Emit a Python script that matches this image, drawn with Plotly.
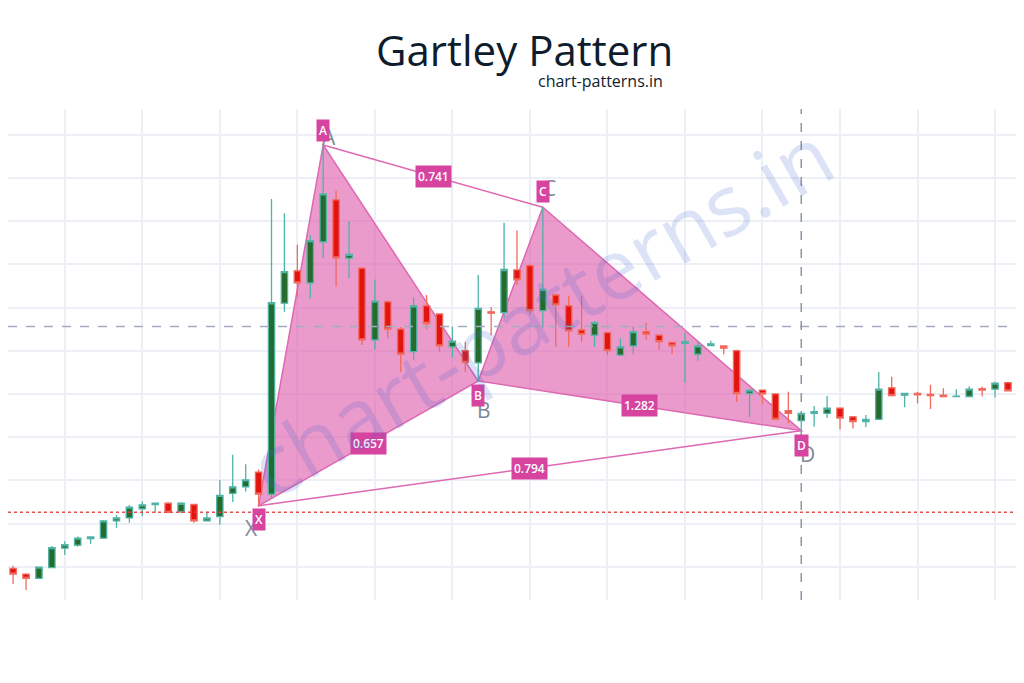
import plotly.graph_objects as go

# ---- candle data (index, open, high, low, close) ----
idx = list(range(79))
opens = [99.6, 98.3, 97.3, 99.8, 104.3, 105.0, 106.5, 106.6, 110.6, 111.3,
         113.4, 114.4, 114.7, 112.7, 114.4, 110.6, 111.6, 117.0, 118.5, 121.9,
         116.8, 161.0, 168.5, 165.7, 175.2, 184.9, 171.4, 169.1, 152.5, 161.3,
         155.0, 149.8, 160.4, 158.5, 150.9, 150.0, 147.2, 159.0, 158.8, 168.7,
         169.7, 159.3, 162.9, 160.4, 154.8, 153.6, 154.2, 149.0, 151.1, 154.4,
         153.6, 151.9, 151.7, 149.2, 151.2, 151.1, 150.0, 140.1, 140.9, 140.0,
         136.1, 133.8, 135.5, 135.5, 136.7, 134.7, 133.6, 134.1, 141.4, 139.7,
         140.1, 139.9, 139.7, 139.4, 139.4, 141.2, 141.1, 142.6, 140.6]
highs = [100.2, 98.5, 100.0, 104.8, 105.9, 107.0, 107.0, 110.8, 112.0, 114.3,
         115.1, 114.7, 115.0, 114.9, 114.6, 112.7, 120.1, 125.9, 123.7, 122.5,
         185.1, 181.8, 174.5, 176.8, 197.6, 187.0, 180.0, 169.3, 166.5, 161.6,
         155.5, 162.3, 162.9, 158.7, 155.6, 152.1, 167.5, 160.1, 179.6, 177.8,
         170.1, 183.2, 163.1, 162.7, 162.7, 156.8, 154.3, 152.9, 155.6, 156.5,
         153.8, 152.0, 154.2, 152.1, 152.3, 151.2, 150.2, 141.0, 141.0, 140.1,
         140.5, 135.7, 137.2, 139.5, 136.9, 134.9, 135.1, 145.1, 144.0, 140.2,
         140.5, 142.1, 141.3, 141.1, 141.8, 141.7, 142.8, 142.8, 143.9]
lows = [96.0, 94.6, 97.2, 99.7, 102.7, 104.6, 105.3, 106.4, 109.0, 110.2,
        111.7, 112.5, 112.4, 112.4, 110.2, 110.5, 109.7, 115.0, 117.4, 114.1,
        115.9, 159.0, 162.5, 162.1, 171.4, 164.8, 166.8, 151.3, 150.2, 152.9,
        145.1, 147.9, 155.0, 149.8, 148.4, 145.1, 143.0, 153.6, 157.6, 165.2,
        158.3, 155.4, 150.9, 150.8, 152.1, 150.9, 149.0, 148.8, 149.2, 152.6,
        150.2, 149.2, 142.5, 147.7, 151.2, 149.2, 138.2, 134.6, 137.7, 134.0,
        133.2, 131.5, 132.4, 134.4, 131.8, 132.0, 132.3, 134.0, 139.4, 136.9,
        137.8, 136.5, 139.4, 139.4, 139.3, 139.4, 139.2, 140.6, 139.8]
closes = [98.3, 97.3, 99.9, 104.4, 105.1, 106.6, 106.9, 110.6, 111.3, 113.8,
          114.3, 114.7, 112.6, 114.7, 110.6, 111.3, 116.5, 118.5, 120.1, 116.8,
          161.1, 168.3, 165.7, 175.5, 186.3, 171.5, 172.3, 152.5, 161.5, 155.0,
          149.2, 160.4, 156.3, 151.1, 152.2, 147.3, 159.8, 158.7, 168.8, 166.4,
          159.3, 164.2, 160.6, 154.6, 153.8, 156.5, 150.0, 150.9, 154.4, 153.8,
          152.1, 151.1, 152.1, 151.1, 151.6, 150.6, 140.1, 140.9, 140.0, 134.1,
          135.5, 135.5, 135.9, 136.7, 134.4, 133.6, 134.1, 141.1, 139.6, 140.1,
          139.8, 139.6, 139.4, 139.5, 141.1, 140.9, 142.5, 140.7, 143.6]

# ---- Gartley pattern points ----
pt_names = ["X", "A", "B", "C", "D"]
pt_x = [19, 24, 36, 41, 61]
pt_y = [114.1, 197.6, 143.0, 183.2, 131.5]
ratio_labels = ["0.741", "0.657", "0.794", "1.282"]
ratio_pairs = [("A", "C"), ("X", "B"), ("X", "D"), ("B", "D")]

h_dash_level = 155.6
h_red_level = 112.6

P = dict(zip(pt_names, zip(pt_x, pt_y)))

# page is offset by the 8px default body margin
W, H = 1016, 675
L, T, B = 0, 101, 83
plot_h = H - T - B


def px(xp):
    return (xp - 8) / W


def py(yp):
    return (600 - yp) / plot_h


fig = go.Figure()

fig.add_trace(go.Candlestick(
    x=idx, open=opens, high=highs, low=lows, close=closes,
    increasing=dict(line=dict(color="#4FB3A6", width=1.3), fillcolor="#276B2C"),
    decreasing=dict(line=dict(color="#F06A5E", width=1.3), fillcolor="#E3140F"),
    whiskerwidth=0, hoverinfo="skip", showlegend=False))

fill_col = "rgba(222,92,172,0.62)"
edge_col = "rgb(222,104,178)"
shapes = []
for tri in (["X", "A", "B"], ["B", "C", "D"]):
    path = "M " + " L ".join(f"{P[n][0]},{P[n][1]}" for n in tri) + " Z"
    shapes.append(dict(type="path", xref="x", yref="y", path=path, fillcolor=fill_col,
                       line=dict(color=edge_col, width=1.5), layer="between"))
for a, b in (("A", "C"), ("X", "D")):
    shapes.append(dict(type="line", xref="x", yref="y", x0=P[a][0], y0=P[a][1],
                       x1=P[b][0], y1=P[b][1], line=dict(color=edge_col, width=1.5),
                       layer="between"))

box_col = "#D6449F"
ann = []
for lab, (a, b) in zip(ratio_labels, ratio_pairs):
    mx = (P[a][0] + P[b][0]) / 2
    my = (P[a][1] + P[b][1]) / 2
    ann.append(dict(x=mx, y=my, text=lab, showarrow=False, bgcolor=box_col,
                    font=dict(family="Open Sans", size=12, color="white", weight=600),
                    borderpad=2))

# point label boxes and grey ghost letters (pixel offsets)
offs = {"X": ((0, 14), (-7, 22)), "A": ((0, -15), (6, -8)), "B": ((0, 15), (6, 29)),
        "C": ((0, -16), (7, -19)), "D": ((0, 15), (6, 23))}
for n in pt_names:
    (bx, by), (gx, gy) = offs[n]
    ann.append(dict(x=P[n][0], y=P[n][1], text=n, showarrow=True, arrowcolor="rgba(0,0,0,0)",
                    ax=gx, ay=gy, font=dict(family="Open Sans", size=21, color="#7E8898"),
                    xanchor="center", yanchor="middle"))
    ann.append(dict(x=P[n][0], y=P[n][1], text=n, showarrow=True, arrowcolor="rgba(0,0,0,0)",
                    ax=bx, ay=by, bgcolor=box_col, borderpad=2,
                    font=dict(family="Open Sans", size=12, color="white", weight=600),
                    xanchor="center", yanchor="middle"))

# watermark
ann.append(dict(x=40.8, y=159.6, text="chart-patterns.in", showarrow=False, textangle=-30,
                font=dict(family="Open Sans", size=84, color="rgba(60,100,205,0.18)")))
# titles
ann.append(dict(xref="paper", yref="paper", x=px(524), y=py(49),
                text="Gartley Pattern", showarrow=False, xanchor="center", yanchor="middle",
                font=dict(family="Open Sans", size=42, color="#0E1C2C")))
ann.append(dict(xref="paper", yref="paper", x=px(600), y=py(81),
                text="chart-patterns.in", showarrow=False, xanchor="center", yanchor="middle",
                font=dict(family="Open Sans", size=16, color="#0E1C2C")))

shapes += [
    dict(type="line", xref="paper", yref="y", x0=0, x1=1, y0=h_dash_level, y1=h_dash_level,
         line=dict(color="#A3ABBE", width=1.5, dash="dash"), layer="above"),
    dict(type="line", xref="paper", yref="y", x0=0, x1=1, y0=h_red_level, y1=h_red_level,
         line=dict(color="rgba(232,60,60,0.9)", width=1.5, dash="dot"), layer="above"),
    dict(type="line", xref="x", yref="paper", x0=P["D"][0], x1=P["D"][0], y0=0, y1=1,
         line=dict(color="#8E95A6", width=1.5, dash="dash"), layer="above"),
]

fig.update_layout(
    width=W, height=H, margin=dict(l=L, r=0, t=T, b=B, autoexpand=False),
    paper_bgcolor="white", plot_bgcolor="white", showlegend=False,
    annotations=ann, shapes=shapes, hovermode=False,
    xaxis=dict(range=[-0.395, 78.24], tick0=4, dtick=6, showgrid=True, gridcolor="#ECF0F6",
               gridwidth=1.5, showticklabels=False, zeroline=False, rangeslider=dict(visible=False),
               showline=False, ticks=""),
    yaxis=dict(range=[92.3, 205.95], tick0=100, dtick=10, showgrid=True, gridcolor="#ECF0F6",
               gridwidth=1.5, showticklabels=False, zeroline=False, showline=False, ticks=""),
)
fig.write_html("out.html")
